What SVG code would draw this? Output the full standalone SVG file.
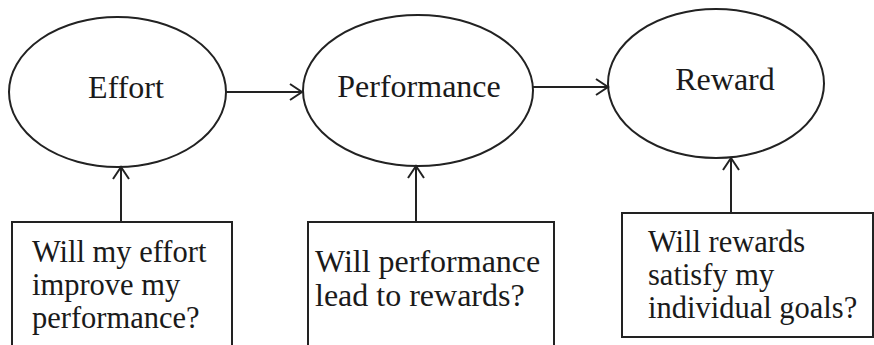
<svg xmlns="http://www.w3.org/2000/svg" width="874" height="345" viewBox="0 0 874 345">
<defs>
<style>
.shape{fill:#fff;stroke:#222;stroke-width:2}
.lbl{font-family:"Liberation Serif","Times New Roman",serif;font-size:32px;fill:#1a1a1a}
.q{font-family:"Liberation Serif","Times New Roman",serif;font-size:30.5px;fill:#1a1a1a}
.conn{stroke:#222;stroke-width:2;fill:none}
</style>
<marker id="arr" viewBox="-14 -10 16 20" refX="0" refY="0" markerWidth="16" markerHeight="20" markerUnits="userSpaceOnUse" orient="auto">
<path d="M -12 -8 L 0 0 L -12 8" fill="none" stroke="#222" stroke-width="2"/>
</marker>
</defs>
<rect width="874" height="345" fill="#fff"/>
<g id="effort">
<ellipse class="shape" cx="117.5" cy="92" rx="108.5" ry="75"/>
<text class="lbl" x="126" y="98" text-anchor="middle">Effort</text>
</g>
<g id="performance">
<ellipse class="shape" cx="418" cy="90.5" rx="115" ry="75.5"/>
<text class="lbl" x="419" y="97" text-anchor="middle">Performance</text>
</g>
<g id="reward">
<ellipse class="shape" cx="716" cy="83.5" rx="108" ry="74.5"/>
<text class="lbl" x="725" y="90" text-anchor="middle">Reward</text>
</g>
<g id="q1">
<path class="shape" d="M 12 350 L 12 222 L 232 222 L 232 350"/>
<text class="q" x="32" y="262">Will my effort</text>
<text class="q" x="32" y="295">improve my</text>
<text class="q" x="32" y="328">performance?</text>
</g>
<g id="q2">
<path class="shape" d="M 308 350 L 308 222 L 554 222 L 554 350"/>
<text class="lbl" x="315" y="272">Will performance</text>
<text class="lbl" x="315" y="306">lead to rewards?</text>
</g>
<g id="q3">
<rect class="shape" x="622" y="213" width="251" height="124"/>
<text class="q" x="648" y="252">Will rewards</text>
<text class="q" x="648" y="285">satisfy my</text>
<text class="q" x="648" y="318">individual goals?</text>
</g>
<g id="connectors">
<line class="conn" x1="226" y1="92" x2="302" y2="92" marker-end="url(#arr)"/>
<line class="conn" x1="533" y1="87" x2="608" y2="87" marker-end="url(#arr)"/>
<line class="conn" x1="121" y1="222" x2="121" y2="167" marker-end="url(#arr)"/>
<line class="conn" x1="416" y1="222" x2="416" y2="166" marker-end="url(#arr)"/>
<line class="conn" x1="731" y1="213" x2="731" y2="158" marker-end="url(#arr)"/>
</g>
</svg>
